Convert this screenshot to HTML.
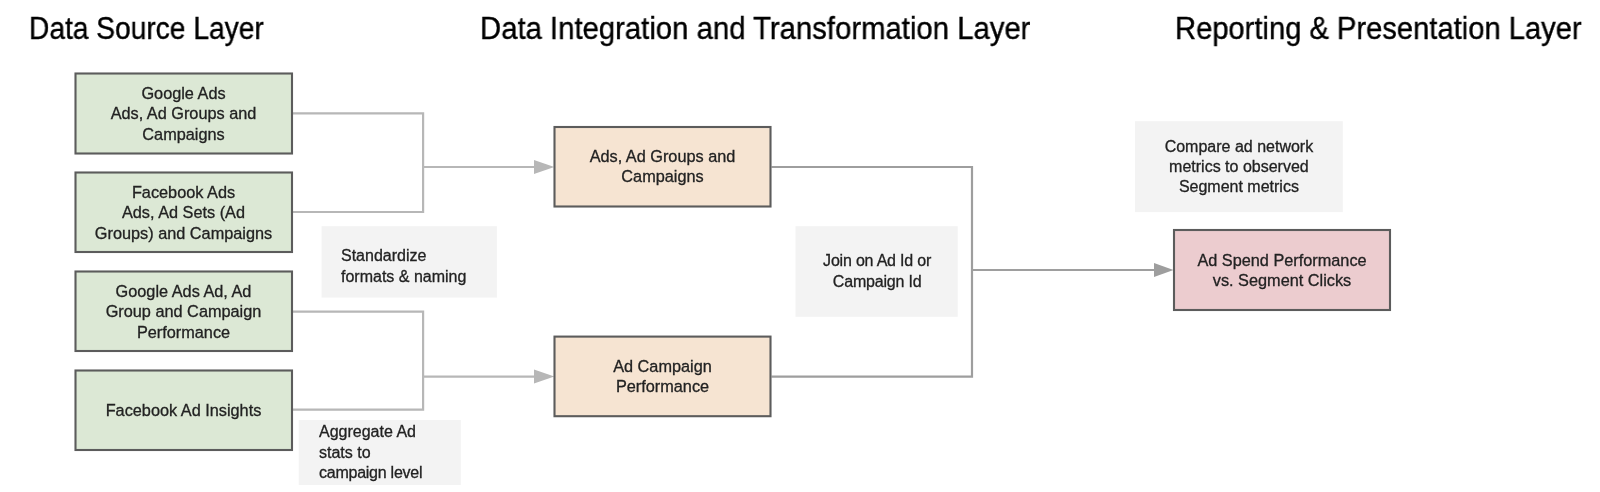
<!DOCTYPE html>
<html>
<head>
<meta charset="utf-8">
<style>
html,body{margin:0;padding:0;background:#ffffff;}
body{-webkit-font-smoothing:antialiased;width:1600px;height:492px;position:relative;overflow:hidden;font-family:"Liberation Sans",sans-serif;}
svg{position:absolute;left:0;top:0;}
.t{position:absolute;will-change:transform;-webkit-text-stroke:0.4px #000;white-space:nowrap;color:#000;font-size:31px;line-height:36px;transform-origin:0 0;}
.bx{position:absolute;will-change:transform;-webkit-text-stroke:0.3px #222;white-space:nowrap;color:#222;font-size:16.3px;line-height:20.3px;text-align:center;}
.nt{position:absolute;will-change:transform;-webkit-text-stroke:0.3px #222;white-space:nowrap;color:#222;font-size:16px;line-height:20.5px;}
.c{text-align:center;}
</style>
</head>
<body>
<svg width="1600" height="492" viewBox="0 0 1600 492">
  <!-- grey notes -->
  <rect x="321.6" y="226.2" width="175.3" height="71.4" fill="#f3f3f3"/>
  <rect x="298.7" y="420" width="162.1" height="65" fill="#f3f3f3"/>
  <rect x="795.5" y="226.2" width="162.2" height="90.6" fill="#f3f3f3"/>
  <rect x="1135" y="121.2" width="207.8" height="90.9" fill="#f3f3f3"/>
  <!-- left connectors -->
  <g fill="none" stroke="#b7b7b7" stroke-width="2.2">
    <polyline points="292.5,113.4 423.1,113.4 423.1,212 292.5,212"/>
    <line x1="423.1" y1="167" x2="536" y2="167"/>
    <polyline points="292.5,311.6 423.1,311.6 423.1,409.6 292.5,409.6"/>
    <line x1="423.1" y1="376.6" x2="536" y2="376.6"/>
  </g>
  <g fill="#b7b7b7">
    <polygon points="534,160 534,174 554.3,167"/>
    <polygon points="534,369.6 534,383.6 554.3,376.6"/>
  </g>
  <!-- right connectors -->
  <g fill="none" stroke="#9e9e9e" stroke-width="2.2">
    <polyline points="771.5,167 972,167 972,376.6 771.5,376.6"/>
    <line x1="972" y1="270" x2="1156" y2="270"/>
  </g>
  <polygon points="1154,263 1154,277 1173.5,270" fill="#9e9e9e"/>
  <!-- boxes -->
  <g stroke="#5c5c5c" stroke-width="2.1">
    <rect x="75.5" y="73.5" width="216.5" height="80" fill="#dce8d5"/>
    <rect x="75.5" y="172.5" width="216.5" height="79.5" fill="#dce8d5"/>
    <rect x="75.5" y="271.5" width="216.5" height="79.5" fill="#dce8d5"/>
    <rect x="75.5" y="370.5" width="216.5" height="79.5" fill="#dce8d5"/>
    <rect x="554.5" y="127" width="216" height="79.5" fill="#f6e4d2"/>
    <rect x="554.5" y="336.6" width="216" height="79.6" fill="#f6e4d2"/>
    <rect x="1174" y="230" width="216" height="80" fill="#eccccf"/>
  </g>
</svg>

<!-- titles -->
<div class="t" id="t1" style="left:29px;top:11.1px;transform:scaleX(0.908);">Data Source Layer</div>
<div class="t" id="t2" style="left:480px;top:11.1px;transform:scaleX(0.945);">Data Integration and Transformation Layer</div>
<div class="t" id="t3" style="left:1175px;top:11.1px;transform:scaleX(0.940);">Reporting &amp; Presentation Layer</div>

<!-- green box texts -->
<div class="bx" style="left:75px;width:217px;top:82.5px;">Google Ads<br>Ads, Ad Groups and<br>Campaigns</div>
<div class="bx" style="left:75px;width:217px;top:181.5px;">Facebook Ads<br>Ads, Ad Sets (Ad<br>Groups) and Campaigns</div>
<div class="bx" style="left:75px;width:217px;top:280.5px;">Google Ads Ad, Ad<br>Group and Campaign<br>Performance</div>
<div class="bx" style="left:75px;width:217px;top:399.5px;">Facebook Ad Insights</div>

<!-- orange box texts -->
<div class="bx" style="left:554px;width:217px;top:145.5px;">Ads, Ad Groups and<br>Campaigns</div>
<div class="bx" style="left:554px;width:217px;top:355.5px;">Ad Campaign<br>Performance</div>

<!-- pink box text -->
<div class="bx" style="left:1173px;width:218px;top:249.5px;">Ad Spend Performance<br>vs. Segment Clicks</div>

<!-- notes -->
<div class="nt" style="left:341px;top:245.8px;">Standardize<br>formats &amp; naming</div>
<div class="nt" style="left:319px;top:421.8px;">Aggregate Ad<br>stats to<br><span style="letter-spacing:-0.25px">campaign level</span></div>
<div class="nt c" style="left:795.5px;width:162.2px;top:251.3px;"><span style="letter-spacing:-0.2px">Join on Ad Id or</span><br><span style="letter-spacing:-0.2px">Campaign Id</span></div>
<div class="nt c" style="left:1135px;width:207.8px;top:137.3px;line-height:19.9px;">Compare ad network<br>metrics to observed<br>Segment metrics</div>
</body>
</html>
